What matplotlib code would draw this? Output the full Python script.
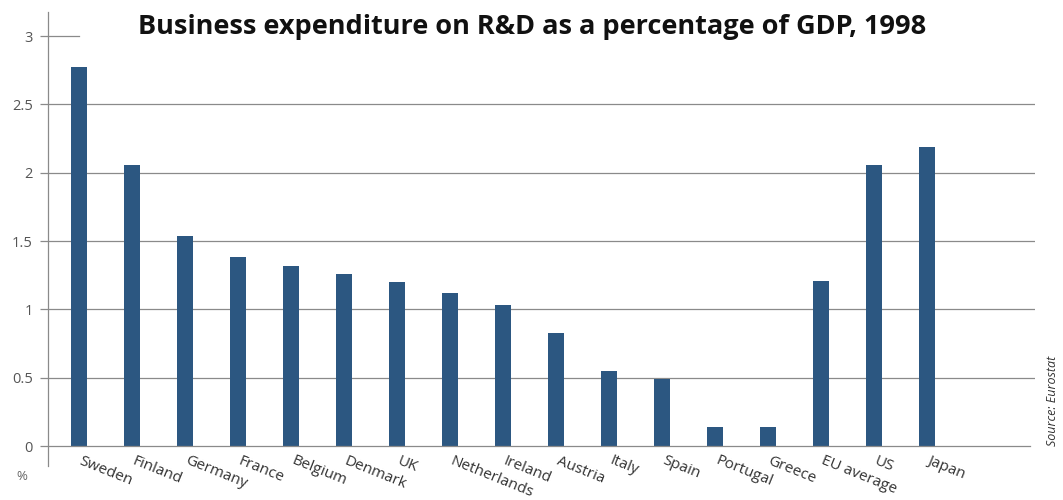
import matplotlib
matplotlib.use("Agg")
import matplotlib.pyplot as plt
import numpy as np

countries = ["Sweden", "Finland", "Germany", "France", "Belgium", "Denmark", "UK",
             "Netherlands", "Ireland", "Austria", "Italy", "Spain", "Portugal",
             "Greece", "EU average", "US", "Japan"]
values = [2.77, 2.06, 1.54, 1.38, 1.32, 1.26, 1.20, 1.12, 1.03, 0.83, 0.55, 0.49,
          0.14, 0.14, 1.21, 2.06, 2.19]
yticks = [0, 0.5, 1, 1.5, 2, 2.5, 3]
ytick_labels = ["0", "0.5", "1", "1.5", "2", "2.5", "3"]

plt.rcParams['font.family'] = ['Open Sans', 'DejaVu Sans']

W, H = 1063, 500
fig = plt.figure(figsize=(W / 100, H / 100), dpi=100)
fig.patch.set_facecolor("white")

ax_left, ax_right, ax_top, ax_bot = 48, 1035, 12, 466
ax = fig.add_axes([ax_left / W, 1 - ax_bot / H, (ax_right - ax_left) / W, (ax_bot - ax_top) / H])
ax.set_facecolor("none")

x = np.arange(len(countries))
ax.bar(x, values, width=0.31, color="#2c5781", zorder=3)

ax.set_xlim(-0.585, 18.04)
ax.set_ylim(-0.146, 3.176)

grid_c = "#8a8a8a"
for t in yticks:
    if t == 3:
        ax.plot([-0.585, 0.0], [t, t], color=grid_c, lw=0.9, zorder=1, clip_on=False)
    elif t == 0:
        ax.plot([-0.585, 17.95], [t, t], color=grid_c, lw=0.9, zorder=4)
    else:
        ax.axhline(t, color=grid_c, lw=0.9, zorder=1)

for s in ["top", "right", "bottom"]:
    ax.spines[s].set_visible(False)
ax.spines["left"].set_color(grid_c)
ax.spines["left"].set_linewidth(0.9)

ax.set_yticks(yticks)
ax.set_yticklabels(ytick_labels, fontsize=10.5, color="#555555")
ax.tick_params(axis="y", length=6, width=0.9, color=grid_c, pad=5)
ax.set_xticks([])

for xi, name in zip(x, countries):
    ax.text(xi + 0.07, -0.055, name, rotation=-22, rotation_mode="anchor",
            ha="left", va="top", fontsize=11, color="#333333")

fig.text(22 / W, 1 - 477 / H, "%", fontsize=9.5, color="#666666", ha="center", va="center")
fig.text(532 / W, 1 - 27 / H, "Business expenditure on R&D as a percentage of GDP, 1998",
         fontsize=19.5, fontweight="bold", ha="center", va="center", color="#111111")
fig.text(1053 / W, 1 - 446 / H, "Source: Eurostat", rotation=90, fontsize=9,
         style="italic", ha="center", va="bottom", color="#333333")

fig.savefig("out.png", dpi=100)
